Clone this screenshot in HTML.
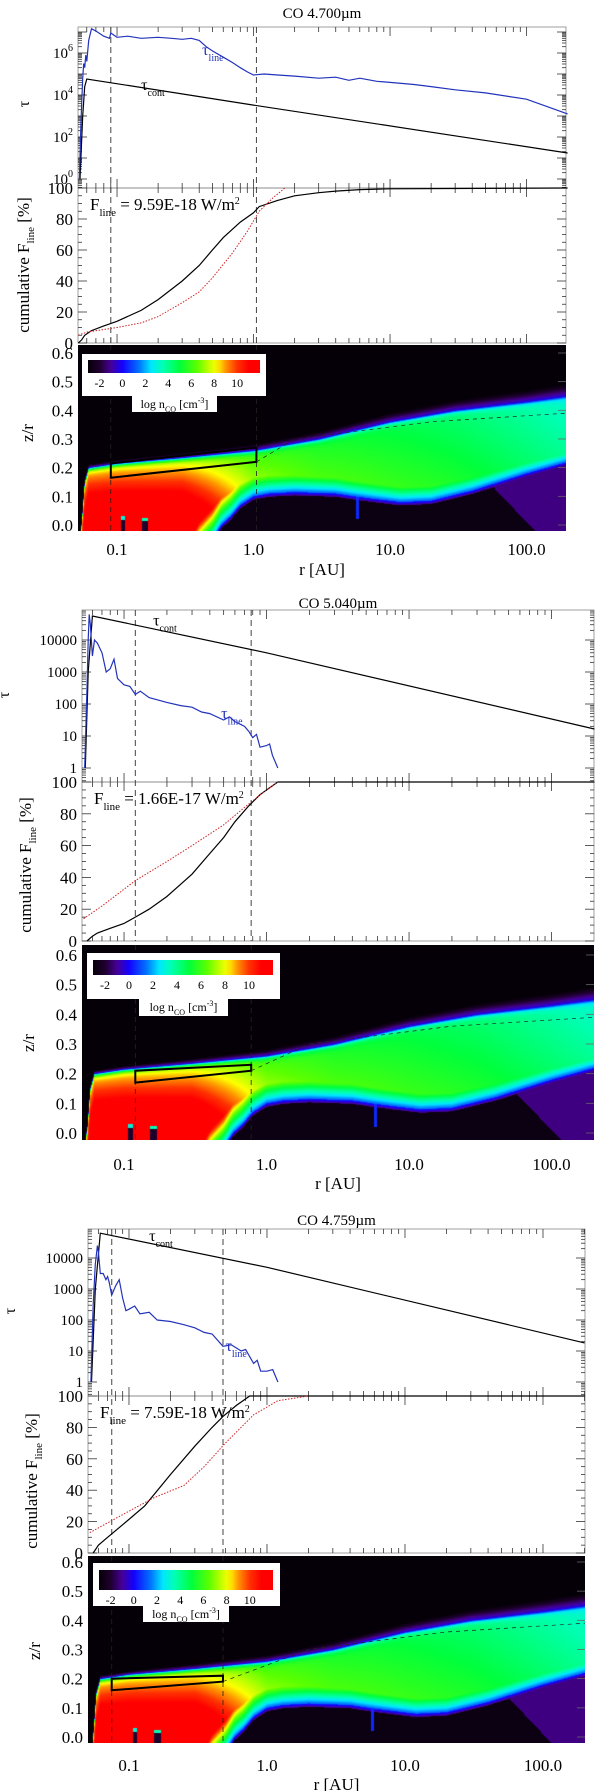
<!DOCTYPE html>
<html><head><meta charset="utf-8">
<style>
html,body{margin:0;padding:0;background:#fff;}
#wrap{position:relative;width:600px;height:1791px;overflow:hidden;background:#fff;}
canvas{position:absolute;}
#svg{position:absolute;left:0;top:0;}
text{font-family:"Liberation Serif",serif;}
</style></head>
<body>
<div id="wrap">
<canvas id="h1"></canvas>
<canvas id="h2"></canvas>
<canvas id="h3"></canvas>
<svg id="svg" width="600" height="1791" xmlns="http://www.w3.org/2000/svg"></svg>
</div>
<script>
// ---------- data (radius in AU, log10 tau, cumulative %) ----------
const titles = ["CO 4.700\u00b5m", "CO 5.040\u00b5m", "CO 4.759\u00b5m"];
const fluxLabels = ["9.59E-18", "1.66E-17", "7.59E-18"];
const dashR = [[0.09, 1.05], [0.12, 0.78], [0.075, 0.48]];

const contR1 = [0.0535, 0.056, 0.058, 0.06, 1.0, 200];
const contT1 = [0.0, 3.0, 4.4, 4.76, 3.52, 1.24];
const lineR1 = [0.053, 0.054, 0.055, 0.056, 0.057, 0.058, 0.059, 0.06, 0.062, 0.065, 0.07, 0.08, 0.088, 0.09, 0.1, 0.12, 0.15, 0.2, 0.25, 0.3, 0.35, 0.4, 0.45, 0.5, 0.6, 0.7, 0.8, 0.9, 1.0, 1.2, 1.5, 2, 3, 4, 5, 6, 8, 10, 15, 20, 30, 50, 100, 200];
const lineT1 = [0.0, 2.0, 3.5, 4.8, 5.5, 5.3, 5.9, 5.6, 6.6, 7.15, 7.05, 6.8, 6.7, 6.95, 6.75, 6.8, 6.7, 6.75, 6.7, 6.65, 6.7, 6.6, 6.3, 6.1, 5.8, 5.55, 5.3, 5.1, 4.95, 5.0, 4.95, 4.9, 4.8, 4.85, 4.7, 4.8, 4.65, 4.6, 4.5, 4.4, 4.25, 4.1, 3.8, 3.1];
const cumR1 = [0.052, 0.055, 0.058, 0.065, 0.08, 0.1, 0.15, 0.2, 0.3, 0.4, 0.5, 0.6, 0.8, 1.0, 1.1, 1.5, 2, 3, 4, 6, 10, 200];
const cumV1 = [0, 2, 5, 8, 11, 14, 21, 28, 40, 50, 60, 68, 78, 84, 88, 92, 95, 97, 98, 99, 99.5, 100];
const redR1 = [0.052, 0.06, 0.1, 0.15, 0.2, 0.3, 0.4, 0.5, 0.7, 0.9, 1.1, 1.4, 1.7];
const redV1 = [5, 7, 10, 13, 17, 26, 33, 42, 58, 72, 85, 94, 100];

const contR2 = [0.0535, 0.056, 0.06, 1.0, 200];
const contT2 = [0.0, 3.0, 4.75, 3.6, 1.22];
const lineR2 = [0.053, 0.055, 0.056, 0.057, 0.058, 0.06, 0.062, 0.065, 0.07, 0.075, 0.08, 0.085, 0.09, 0.1, 0.11, 0.12, 0.13, 0.15, 0.2, 0.25, 0.3, 0.35, 0.4, 0.5, 0.55, 0.6, 0.7, 0.75, 0.8, 0.85, 0.9, 1.0, 1.05, 1.1, 1.2];
const lineT2 = [0.0, 2.5, 4.0, 4.8, 4.5, 3.5, 4.0, 3.9, 3.6, 3.0, 3.1, 3.4, 2.8, 2.6, 2.55, 2.3, 2.4, 2.2, 2.05, 1.95, 1.9, 1.75, 1.7, 1.5, 1.6, 1.45, 1.3, 1.15, 0.95, 1.05, 0.65, 0.7, 0.75, 0.4, 0.0];
const cumR2 = [0.055, 0.06, 0.065, 0.08, 0.1, 0.12, 0.15, 0.2, 0.3, 0.4, 0.5, 0.6, 0.75, 0.9, 1.0, 1.2, 200];
const cumV2 = [0, 3, 5, 8, 11, 15, 20, 28, 42, 55, 65, 75, 85, 92, 95, 100, 100];
const redR2 = [0.052, 0.07, 0.12, 0.2, 0.3, 0.5, 0.7, 1.0, 1.2];
const redV2 = [14, 22, 38, 50, 60, 73, 84, 95, 100];

const contR3 = [0.0535, 0.057, 0.062, 1.0, 200];
const contT3 = [0.0, 3.0, 4.8, 3.7, 1.26];
const lineR3 = [0.053, 0.055, 0.057, 0.059, 0.06, 0.062, 0.065, 0.068, 0.07, 0.072, 0.075, 0.08, 0.085, 0.09, 0.095, 0.1, 0.11, 0.12, 0.14, 0.16, 0.2, 0.25, 0.3, 0.35, 0.4, 0.48, 0.55, 0.65, 0.7, 0.8, 0.85, 0.9, 1.0, 1.1, 1.2];
const lineT3 = [0.0, 2.5, 3.8, 4.4, 4.2, 3.5, 3.5, 3.3, 3.4, 3.2, 2.8, 3.1, 3.3, 2.7, 2.3, 2.35, 2.45, 2.2, 2.25, 2.0, 1.95, 1.85, 1.75, 1.6, 1.55, 1.15, 1.2, 1.0, 1.05, 0.6, 0.7, 0.35, 0.35, 0.4, 0.0];
const cumR3 = [0.055, 0.06, 0.07, 0.09, 0.13, 0.2, 0.3, 0.4, 0.48, 0.6, 0.75, 200];
const cumV3 = [0, 5, 10, 18, 30, 50, 68, 80, 87, 94, 100, 100];
const redR3 = [0.052, 0.08, 0.15, 0.25, 0.35, 0.5, 0.8, 1.2, 2.0];
const redV3 = [13, 22, 35, 43, 55, 70, 88, 97, 100];

// heatmap structure (disk surface, dead zone boundary, surface log n_CO, vertical gradient)
const surfR = [0.055, 0.058, 0.062, 0.1, 0.3, 1.0, 3.0, 10, 30, 100, 200];
const surfZ = [0.0, 0.15, 0.2, 0.215, 0.235, 0.26, 0.3, 0.36, 0.4, 0.43, 0.45];
const deadR = [0.35, 0.4, 0.5, 0.58, 0.68, 0.8, 1.0, 1.3, 2, 4, 5.5, 8, 12, 20, 40, 100, 200];
const deadZ = [-0.15, -0.1, -0.05, 0.0, 0.03, 0.07, 0.1, 0.11, 0.115, 0.11, 0.1, 0.09, 0.08, 0.085, 0.12, 0.18, 0.22];
const baseR = [0.055, 0.1, 0.3, 1.0, 3.0, 10, 30, 100, 200];
const baseN = [8.2, 8.0, 7.5, 6.0, 5.3, 4.8, 4.3, 3.6, 3.1];
const gradR = [0.055, 0.3, 1.0, 3.0, 10, 100, 200];
const gradN = [32, 30, 11, 7, 5, 4, 4];

// ---------- layout ----------
const P = [
 {title:titles[0], ty:13, L:78, R:566, lr0:-1.286, dec:136.5, tTop:27, t0:179, tpd:21, cTop:188, cBot:343, hTop:345, hBot:531, z0:525, zpu:286.7, xl:549, ra:569,
  tauLabels:"pow", cR:contR1, cT:contT1, lR:lineR1, lT:lineT1, kR:cumR1, kV:cumV1, dR:redR1, dV:redV1,
  lab:{yt:104, yc:265, yz:433, xt:29, xc:29, xz:33, endx:73},
  cb:{bx:82,by:354,bw:184,bh:42,cx:88,cy:360,cw:172,ch:13, lx:132,ly:396,lw:85,lh:16},
  contLab:[0.15,4.25], lineLab:[0.42,5.9], box:[0.09,1.05,0.165,0.215,0.22,0.27]},
 {title:titles[1], ty:603, L:82, R:594, lr0:-1.295, dec:142.5, tTop:610, t0:768, tpd:32, cTop:782, cBot:941, hTop:945, hBot:1140, z0:1133, zpu:296.7, xl:1164, ra:1183,
  tauLabels:"lin", cR:contR2, cT:contT2, lR:lineR2, lT:lineT2, kR:cumR2, kV:cumV2, dR:redR2, dV:redV2,
  lab:{yt:695, yc:865, yz:1043, xt:9, xc:31, xz:34, endx:77},
  cb:{bx:87,by:953,bw:193,bh:46,cx:93,cy:960,cw:180,ch:15, lx:139,ly:999,lw:89,lh:17},
  contLab:[0.16,4.45], lineLab:[0.48,1.55], box:[0.12,0.78,0.17,0.21,0.21,0.23]},
 {title:titles[2], ty:1220, L:88, R:585, lr0:-1.297, dec:138, tTop:1229, t0:1382, tpd:31, cTop:1396, cBot:1553, hTop:1556, hBot:1743, z0:1737, zpu:291.7, xl:1765, ra:1784,
  tauLabels:"lin", cR:contR3, cT:contT3, lR:lineR3, lT:lineT3, kR:cumR3, kV:cumV3, dR:redR3, dV:redV3,
  lab:{yt:1311, yc:1481, yz:1651, xt:15, xc:37, xz:40, endx:83},
  cb:{bx:93,by:1563,bw:187,bh:43,cx:99,cy:1570,cw:174,ch:20, lx:143,ly:1606,lw:86,lh:16},
  contLab:[0.14,4.55], lineLab:[0.5,1.0], box:[0.075,0.48,0.16,0.2,0.19,0.21]}
];

const NS = "http://www.w3.org/2000/svg";
const svg = document.getElementById('svg');
function mk(tag, attrs, parent){
  const e = document.createElementNS(NS, tag);
  for (const k in attrs) e.setAttribute(k, attrs[k]);
  (parent||svg).appendChild(e);
  return e;
}
function interp(xs, ys, x){
  if (x <= xs[0]) return ys[0];
  for (let i=1;i<xs.length;i++){ if (x <= xs[i]){ const t=(x-xs[i-1])/(xs[i]-xs[i-1]); return ys[i-1]+t*(ys[i]-ys[i-1]); } }
  return ys[ys.length-1];
}
const lg = Math.log10;

const cmV = [-3, -2, -1, 0, 1.5, 2.5, 3.5, 5, 6.5, 7.5, 8.2, 9, 10, 11, 12];
const cmC = [[5,0,8],[30,0,45],[70,0,150],[20,0,255],[0,120,255],[0,230,255],[0,255,180],[0,255,60],[90,255,0],[190,255,0],[255,255,0],[255,150,0],[255,50,0],[255,0,0],[255,0,0]];
function cmap(v){
  if (v<=cmV[0]) return cmC[0];
  for (let i=1;i<cmV.length;i++){ if (v<=cmV[i]){ const t=(v-cmV[i-1])/(cmV[i]-cmV[i-1]); const a=cmC[i-1], b=cmC[i]; return [a[0]+t*(b[0]-a[0]),a[1]+t*(b[1]-a[1]),a[2]+t*(b[2]-a[2])]; } }
  return cmC[cmC.length-1];
}
const surfLR = surfR.map(lg), deadLR = deadR.map(lg), baseLR = baseR.map(lg), gradLR = gradR.map(lg);
function density(lr, z){
  if (lr < lg(0.0545)) return -3;
  const zs = interp(surfLR, surfZ, lr);
  if (z > zs){ const w = 0.012 + 0.035*Math.max(0, lr+1)/3.3; return -0.3 - 3*(z-zs)/w; }
  const d = zs - z;
  const grad = interp(gradLR, gradN, lr);
  let base = Math.min(11.3, interp(baseLR, baseN, lr) + d*grad);
  let v = base - (base+0.5)*Math.exp(-d/0.007);
  const zb = interp(deadLR, deadZ, lr);
  if (lr > lg(0.35)){
    if (z < zb){
      const purple = lr > 1.78 + (0.12 - z)*2;
      const inner = purple ? -1.2 : -2.7;
      const rim = zb - z;
      v = rim < 0.012 ? Math.max(inner, 0.5 - rim*150) : inner;
      if (Math.abs(lr - lg(5.8)) < 0.012 && z > 0.02) v = 0.5;
    } else {
      v = Math.min(v, 1.2 + (z-zb)*90);
    }
  }
  if (lr > -0.97 && lr < -0.94 && z < 0.03) v = z<0.018? -2 : 3;
  if (lr > -0.82 && lr < -0.77 && z < 0.025) v = z<0.015? -2 : 3.5;
  return v;
}

function xOf(p, r){ return p.L + (lg(r) - p.lr0)*p.dec; }
function poly(pts){ return pts.map(q=>q[0].toFixed(1)+','+q[1].toFixed(1)).join(' '); }

P.forEach((p, idx) => {
  const g = mk('g', {});
  
  

  const cv = document.getElementById('h'+(idx+1));
  const W = p.R - p.L, H = p.hBot - p.hTop;
  cv.width = W; cv.height = H; cv.style.left = p.L+'px'; cv.style.top = p.hTop+'px';
  const ctx = cv.getContext('2d'); const im = ctx.createImageData(W, H);
  for (let j=0;j<H;j++){ const z = (p.z0 - (p.hTop+j+0.5))/p.zpu;
    for (let i=0;i<W;i++){ const lr = p.lr0 + (i+0.5)/p.dec; const c = cmap(density(lr, z)); const k=(j*W+i)*4;
      im.data[k]=c[0]; im.data[k+1]=c[1]; im.data[k+2]=c[2]; im.data[k+3]=255; } }
  ctx.putImageData(im, 0, 0);

  const t = mk('text', {x:(p.L+p.R)/2, y:p.ty+5, 'font-size':15, 'text-anchor':'middle'}, g);
  t.textContent = p.title;
  
  

  [[p.tTop,p.cTop],[p.cTop,p.cBot]].forEach(([a,b])=>{ mk('rect',{x:p.L,y:a,width:p.R-p.L,height:b-a,fill:'none',stroke:'#888','stroke-width':0.8},g); });

  for (let e=-2;e<=2;e++) for (let m=1;m<=9;m++){
    const r = m*Math.pow(10,e); const x = xOf(p,r); if (x<p.L||x>p.R) continue;
    const len = m===1?9:5;
    [[p.tTop,1],[p.cTop,-1],[p.cTop,1],[p.cBot,-1]].forEach(([y,s])=>mk('line',{x1:x,x2:x,y1:y,y2:y+s*len,stroke:'#333','stroke-width':0.8},g));
  }
  const tMin = (p.t0 - p.cTop)/p.tpd, tMax = (p.t0 - p.tTop)/p.tpd;
  for (let e=Math.floor(tMin);e<=Math.ceil(tMax);e++) for (let m=1;m<=9;m++){
    const v = e + lg(m); if (v<tMin||v>tMax) continue; const y = p.t0 - v*p.tpd;
    const len = m===1?9:4;
    mk('line',{x1:p.L,x2:p.L+len,y1:y,y2:y,stroke:'#333','stroke-width':0.8},g);
    mk('line',{x1:p.R,x2:p.R-len,y1:y,y2:y,stroke:'#333','stroke-width':0.8},g);
  }
  const tauTicks = p.tauLabels==="pow" ? [0,2,4,6] : [0,1,2,3,4];
  tauTicks.forEach(e=>{
    const y = p.t0 - e*p.tpd;
    const tx = mk('text',{x:p.lab.endx, y:y+5, 'font-size':15, 'text-anchor':'end'}, g);
    if (p.tauLabels==="pow"){ tx.textContent='10'; const s=mk('tspan',{'font-size':10,dy:-7},tx); s.textContent=String(e); }
    else tx.textContent = String(Math.pow(10,e));
    
    
  });
  for (let v=0; v<=100; v+=5){
    const y = p.cBot - v/100*(p.cBot-p.cTop); const len = v%20===0?9:4;
    mk('line',{x1:p.L,x2:p.L+len,y1:y,y2:y,stroke:'#333','stroke-width':0.8},g);
    mk('line',{x1:p.R,x2:p.R-len,y1:y,y2:y,stroke:'#333','stroke-width':0.8},g);
    if (v%20===0){ const tx = mk('text',{x:p.lab.endx,y:y+6,'font-size':17,'text-anchor':'end'},g); tx.textContent=String(v);
      
       }
  }
  for (let k=0;k<=6;k++){
    const y = p.z0 - k*0.1*p.zpu;
    const tx = mk('text',{x:p.lab.endx,y:y+6,'font-size':17,'text-anchor':'end'},g); tx.textContent=(k/10).toFixed(1);
    
    
    mk('line',{x1:p.R,x2:p.R-8,y1:y,y2:y,stroke:'#666','stroke-width':0.8},g);
  }
  [[0.1,'0.1'],[1,'1.0'],[10,'10.0'],[100,'100.0']].forEach(([r,s])=>{
    const tx = mk('text',{x:xOf(p,r),y:p.xl+6,'font-size':17,'text-anchor':'middle'},g); tx.textContent=s;
    
    
  });
  const xa = mk('text',{x:(p.L+p.R)/2,y:p.ra+6,'font-size':17,'text-anchor':'middle'},g); xa.textContent='r [AU]';
  
  
  const ty1 = mk('text',{x:p.lab.xt,y:p.lab.yt,'font-size':16,'text-anchor':'middle',transform:`rotate(-90 ${p.lab.xt} ${p.lab.yt})`},g); ty1.textContent='\u03c4';
  
  
  const ty2 = mk('text',{x:p.lab.xc,y:p.lab.yc,'font-size':17,'text-anchor':'middle',transform:`rotate(-90 ${p.lab.xc} ${p.lab.yc})`},g);
  ty2.textContent='cumulative F'; const s2=mk('tspan',{'font-size':11,dy:5},ty2); s2.textContent='line'; const s3=mk('tspan',{dy:-5},ty2); s3.textContent=' [%]';
  
  
  const ty3 = mk('text',{x:p.lab.xz,y:p.lab.yz,'font-size':17,'text-anchor':'middle',transform:`rotate(-90 ${p.lab.xz} ${p.lab.yz})`},g); ty3.textContent='z/r';
  
  

  dashR[idx].forEach(r=>{ const x=xOf(p,r);
    const dl = mk('line',{x1:x,x2:x,y1:p.tTop,y2:p.cBot,stroke:'#444','stroke-width':1,'stroke-dasharray':'6,4'},g);
    
    
    mk('line',{x1:x,x2:x,y1:p.hTop,y2:p.hBot,stroke:'#222','stroke-width':0.8,'stroke-dasharray':'5,4'},g);
  });

  const clipT = (y)=>Math.max(p.tTop, Math.min(p.cTop, y));
  const tauPts = (R,T)=>R.map((r,i)=>[xOf(p,r), clipT(p.t0 - T[i]*p.tpd)]);
  const cont = mk('polyline',{points:poly(tauPts(p.cR,p.cT)),fill:'none',stroke:'#000','stroke-width':1.2},g);
  
  
  const line = mk('polyline',{points:poly(tauPts(p.lR,p.lT)),fill:'none',stroke:'#2233bb','stroke-width':1.2},g);
  
  
  const cumPts = (R,V)=>R.map((r,i)=>[Math.max(p.L,xOf(p,r)), p.cBot - V[i]/100*(p.cBot-p.cTop)]);
  const cum = mk('polyline',{points:poly(cumPts(p.kR,p.kV)),fill:'none',stroke:'#000','stroke-width':1.2},g);
  
  
  const red = mk('polyline',{points:poly(cumPts(p.dR,p.dV)),fill:'none',stroke:'#cc2222','stroke-width':1,'stroke-dasharray':'1.5,1.5'},g);
  
  

  const cl = mk('text',{x:xOf(p,p.contLab[0]),y:p.t0-p.contLab[1]*p.tpd,'font-size':16},g);
  cl.textContent='\u03c4'; const cs=mk('tspan',{'font-size':10,dy:6},cl); cs.textContent='cont';
  
  
  const ll = mk('text',{x:xOf(p,p.lineLab[0]),y:p.t0-p.lineLab[1]*p.tpd,'font-size':16,fill:'#2233bb'},g);
  ll.textContent='\u03c4'; const ls=mk('tspan',{'font-size':10,dy:6},ll); ls.textContent='line';
  
  
  const fl = mk('text',{x:p.L+12,y:p.cTop+22,'font-size':17},g);
  fl.textContent='F'; const f1=mk('tspan',{'font-size':11,dy:6},fl); f1.textContent='line';
  const f2=mk('tspan',{dy:-6},fl); f2.textContent=' = '+fluxLabels[idx]+' W/m'; const f3=mk('tspan',{'font-size':10,dy:-6},fl); f3.textContent='2';
  
  

  const b = p.box; const x1=xOf(p,b[0]), x2=xOf(p,b[1]); const zy=z=>p.z0-z*p.zpu;
  const bx = mk('polygon',{points:poly([[x1,zy(b[2])],[x2,zy(b[4])],[x2,zy(b[5])],[x1,zy(b[3])]]),fill:'none',stroke:'#000','stroke-width':2},g);
  
  
  const gl = mk('polyline',{points:poly([[x2,zy(b[4])],[xOf(p,2),zy(0.3)],[xOf(p,20),zy(0.36)],[p.R,zy(0.39)]]),fill:'none',stroke:'#222','stroke-width':0.7,'stroke-dasharray':'4,4'},g);
  
  

  const c = p.cb;
  const cbg = mk('g',{},g);
  
  
  mk('rect',{x:c.bx,y:c.by,width:c.bw,height:c.bh,fill:'#fff'},cbg);
  mk('rect',{x:c.lx,y:c.ly-1,width:c.lw,height:c.lh+1,fill:'#fff'},cbg);
  const gid='cbgrad'+idx; const defs=mk('defs',{},cbg); const lgd=mk('linearGradient',{id:gid,x1:0,x2:1,y1:0,y2:0},defs);
  for (let s=0;s<=30;s++){ const v=-3+s*0.5; const col=cmap(v); mk('stop',{offset:(s/30).toFixed(3),'stop-color':`rgb(${col.map(Math.round).join(',')})`},lgd); }
  mk('rect',{x:c.cx,y:c.cy,width:c.cw,height:c.ch,fill:`url(#${gid})`},cbg);
  for (let v=-2; v<=10; v+=2){ const tx=mk('text',{x:c.cx+(v+3)/15*c.cw,y:c.cy+c.ch+14,'font-size':12,'text-anchor':'middle'},cbg); tx.textContent=String(v); }
  const lb = mk('text',{x:c.lx+c.lw/2,y:c.ly+12,'font-size':12,'text-anchor':'middle'},cbg);
  lb.textContent='log n'; const l1=mk('tspan',{'font-size':8,dy:4},lb); l1.textContent='CO'; const l2=mk('tspan',{dy:-4},lb); l2.textContent=' [cm'; const l3=mk('tspan',{'font-size':8,dy:-5},lb); l3.textContent='-3'; const l4=mk('tspan',{dy:5},lb); l4.textContent=']';
});
</script>
</body></html>
